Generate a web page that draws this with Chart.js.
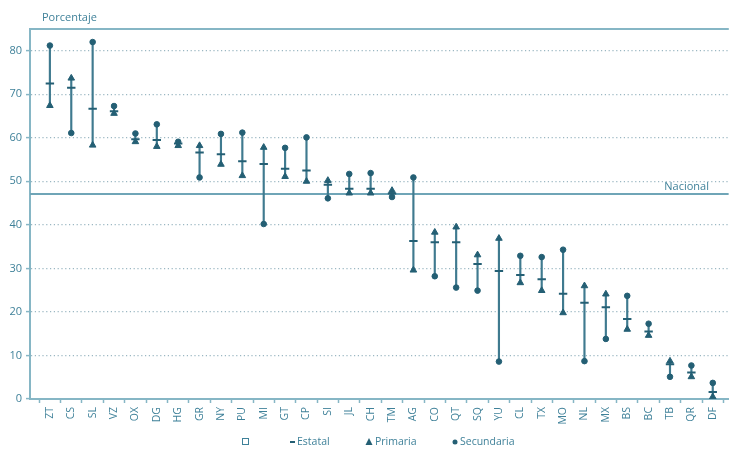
<!DOCTYPE html>
<html>
<head>
<meta charset="utf-8">
<script src="https://cdn.jsdelivr.net/npm/chart.js@4"></script>
<style>
  html, body { margin: 0; padding: 0; background: #fff; }
  #wrap { width: 735px; height: 450px; }
</style>
</head>
<body>
<div id="wrap"><canvas id="chart"></canvas></div>
<script>
const estados = ['ZT','CS','SL','VZ','OX','DG','HG','GR','NY','PU','MI','GT','CP','SI','JL','CH','TM','AG','CO','QT','SQ','YU','CL','TX','MO','NL','MX','BS','BC','TB','QR','DF'];
const estatal = [72.5,71.5,66.7,66.1,59.7,59.5,58.7,56.6,56.2,54.6,54.0,52.9,52.5,49.2,48.3,48.3,47.2,36.3,36.0,36.0,31.0,29.4,28.5,27.5,24.2,22.1,21.1,18.4,15.5,8.0,6.1,1.6];
const primaria = [67.4,73.7,58.3,65.6,59.1,58.0,58.2,58.2,53.9,51.3,57.8,51.1,50.0,50.2,47.3,47.3,47.9,29.6,38.3,39.5,33.1,36.9,26.7,24.9,19.8,26.0,24.1,16.0,14.6,8.7,5.1,0.5];
const secundaria = [81.2,61.1,82.0,67.3,61.0,63.1,59.1,50.9,60.9,61.2,40.2,57.7,60.1,46.1,51.7,51.9,46.4,50.9,28.2,25.6,24.9,8.6,32.9,32.6,34.3,8.7,13.8,23.7,17.3,5.1,7.7,3.7];
const nacional = 47.1;
const yTicks = [0,10,20,30,40,50,60,70,80];

const dark = '#245f74';
const txt = '#3f8199';
const axisCol = '#86b6c5';

const rangos = estados.map((c, i) => ({
  x: i,
  y: [Math.min(estatal[i], primaria[i], secundaria[i]), Math.max(estatal[i], primaria[i], secundaria[i])]
}));
const pts = arr => arr.map((v, i) => ({ x: i, y: v }));

const extras = {
  id: 'extras',
  afterDraw(chart) {
    const ctx = chart.ctx, a = chart.chartArea, y = chart.scales.y;
    ctx.save();
    // marco superior
    ctx.strokeStyle = axisCol; ctx.lineWidth = 2;
    ctx.beginPath(); ctx.moveTo(a.left - 1, a.top); ctx.lineTo(a.right, a.top); ctx.stroke();
    ctx.font = '11px "Open Sans"';
    ctx.fillStyle = txt;
    ctx.textBaseline = 'alphabetic';
    ctx.textAlign = 'left';
    ctx.fillText('Porcentaje', 42, 21);
    ctx.textAlign = 'right';
    ctx.fillText('Nacional', 709, y.getPixelForValue(nacional) - 4);
    // leyenda
    const ly = 442;
    ctx.textAlign = 'left'; ctx.textBaseline = 'middle';
    ctx.font = '10.5px "Open Sans"';
    ctx.strokeStyle = txt; ctx.lineWidth = 1;
    ctx.strokeRect(242.5, ly - 3.5, 6, 6);
    ctx.fillStyle = dark;
    ctx.fillRect(290, ly - 1, 5, 2);
    ctx.beginPath(); ctx.moveTo(369, ly - 4); ctx.lineTo(372.5, ly + 3); ctx.lineTo(365.5, ly + 3); ctx.closePath(); ctx.fill();
    ctx.beginPath(); ctx.arc(455, ly, 2.5, 0, Math.PI * 2); ctx.fill();
    ctx.fillStyle = txt;
    ctx.fillText('Estatal', 297, ly);
    ctx.fillText('Primaria', 375, ly);
    ctx.fillText('Secundaria', 460, ly);
    ctx.restore();
  }
};

new Chart(document.getElementById('chart'), {
  type: 'scatter',
  data: {
    datasets: [
      {
        type: 'line', label: 'Nacional',
        data: [{ x: -0.93, y: nacional }, { x: 31.75, y: nacional }],
        borderColor: '#6fa5b7', borderWidth: 2, pointRadius: 0, order: 5
      },
      {
        type: 'bar', label: 'rango', data: rangos,
        backgroundColor: '#3f7a8f', barThickness: 1.5, grouped: false, order: 4
      },
      {
        label: 'Estatal', data: pts(estatal),
        pointStyle: 'line', radius: 4.2, borderColor: dark, borderWidth: 2, order: 3
      },
      {
        label: 'Primaria', data: pts(primaria),
        pointStyle: 'triangle', radius: 3.8, backgroundColor: dark, borderColor: dark, borderWidth: 1, order: 2
      },
      {
        label: 'Secundaria', data: pts(secundaria),
        pointStyle: 'circle', radius: 2.8, backgroundColor: dark, borderColor: dark, borderWidth: 1, order: 1
      }
    ]
  },
  options: {
    responsive: true,
    maintainAspectRatio: false,
    animation: false,
    layout: { padding: { top: 29, right: 0, left: 0, bottom: 0 } },
    plugins: { legend: { display: false }, tooltip: { enabled: false } },
    scales: {
      x: {
        type: 'linear', min: -0.93, max: 31.75, offset: false,
        afterBuildTicks: s => { s.ticks = estados.map((c, i) => ({ value: i })); },
        afterFit: s => { s.height = 51; },
        border: { color: axisCol, width: 2 },
        grid: { drawOnChartArea: false, drawTicks: true, tickLength: 4, tickColor: axisCol, tickWidth: 1.5 },
        ticks: {
          autoSkip: false, minRotation: 90, maxRotation: 90, padding: 4,
          color: txt, font: { family: 'Open Sans', size: 10.5 },
          callback: v => estados[v] || ''
        }
      },
      y: {
        min: 0, max: 85,
        afterBuildTicks: s => { s.ticks = yTicks.map(v => ({ value: v })); },
        afterFit: s => { s.width = 30; },
        border: { color: axisCol, width: 2, dash: [1.2, 2.6] },
        grid: {
          color: '#9bb7c2', lineWidth: 1.2,
          tickLength: 4, tickColor: axisCol, tickWidth: 1.5, tickBorderDash: []
        },
        ticks: { padding: 4, color: txt, font: { family: 'Open Sans', size: 11 } }
      }
    }
  },
  plugins: [extras]
});
</script>
</body>
</html>
